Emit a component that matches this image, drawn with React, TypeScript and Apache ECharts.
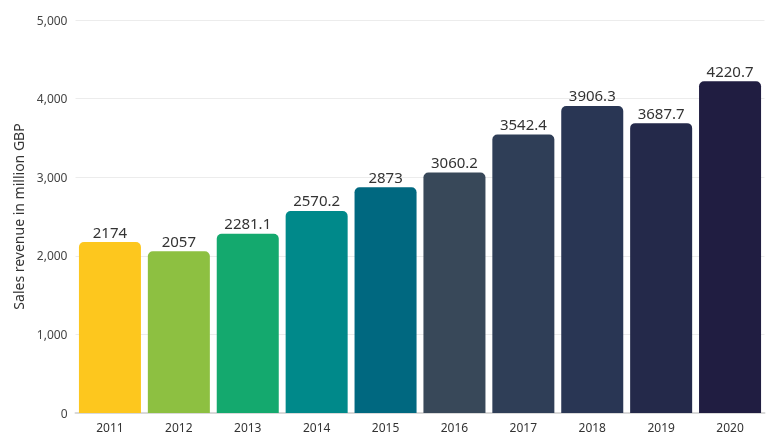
import React, { useEffect, useRef } from "react";
import * as echarts from "echarts";

const years = ["2011", "2012", "2013", "2014", "2015", "2016", "2017", "2018", "2019", "2020"];
const revenue = [2174, 2057, 2281.1, 2570.2, 2873, 3060.2, 3542.4, 3906.3, 3687.7, 4220.7];
const barColors = ["#FDC71E", "#8DC041", "#14A96E", "#00898A", "#006880", "#384859", "#2F3E57", "#293654", "#24294A", "#201D41"];
const yTicks = [0, 1000, 2000, 3000, 4000, 5000];

export default function App() {
  const ref = useRef<HTMLDivElement>(null);
  useEffect(() => {
    if (!ref.current) return;
    const chart = echarts.init(ref.current, null, { renderer: "svg" });
    const font = "'Noto Sans', sans-serif";
    chart.setOption({
      animation: false,
      grid: { left: 75.5, right: 12.5, top: 20, bottom: 29 },
      xAxis: {
        type: "category",
        data: years,
        axisLine: { lineStyle: { color: "#d9d9d9", width: 2 } },
        axisTick: { show: false },
        axisLabel: { color: "#333", fontSize: 12, fontFamily: font, margin: 8 },
      },
      yAxis: {
        type: "value",
        min: yTicks[0],
        max: yTicks[yTicks.length - 1],
        interval: 1000,
        name: "Sales revenue in million GBP",
        nameLocation: "middle",
        nameGap: 50,
        nameTextStyle: { color: "#333", fontSize: 14, fontFamily: font },
        splitLine: { lineStyle: { color: "#ececec" } },
        axisLine: { show: false },
        axisTick: { show: false },
        axisLabel: {
          color: "#444",
          fontSize: 12,
          fontFamily: font,
          margin: 8,
          formatter: (v: number) => v.toLocaleString("en-US"),
        },
      },
      series: [
        {
          type: "bar",
          barCategoryGap: "10%",
          data: revenue.map((v, i) => ({ value: v, itemStyle: { color: barColors[i] } })),
          itemStyle: { borderRadius: [5, 5, 0, 0] },
          label: {
            show: true,
            position: "top",
            color: "#333",
            fontSize: 15,
            fontFamily: font,
            distance: 3,
          },
        },
      ],
    });
    return () => chart.dispose();
  }, []);
  return <div ref={ref} style={{ position: "fixed", left: 0, top: 0, width: 777, height: 442 }} />;
}
